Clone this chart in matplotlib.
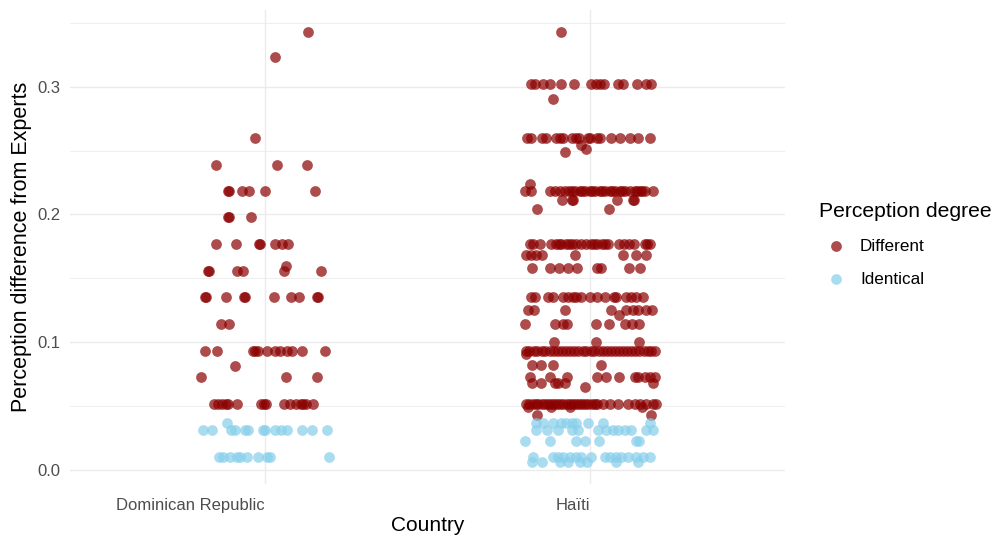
import matplotlib.pyplot as plt
from matplotlib.ticker import MultipleLocator

plt.rcParams['font.family'] = ['Liberation Sans', 'DejaVu Sans']

countries = ["Dominican Republic", "Haïti"]
degrees = ["Different", "Identical"]
colors = {"Different": "#8B0000", "Identical": "#87CEEB"}

# each row: (perception difference, horizontal jitter offsets of the points at that value)
dr_different = [
    (0.343, [0.132]),
    (0.323, [0.031]),
    (0.260, [-0.029]),
    (0.239, [-0.151, 0.037, 0.129]),
    (0.218, [-0.113, -0.110, -0.069, -0.049, 0.001, 0.155]),
    (0.198, [-0.113, -0.110, -0.043]),
    (0.177, [-0.151, -0.089, -0.019, -0.016, 0.030, 0.053, 0.070]),
    (0.160, [0.066]),
    (0.156, [-0.174, -0.171, -0.087, -0.067, 0.059, 0.172]),
    (0.135, [-0.185, -0.182, -0.121, -0.065, -0.062, 0.028, 0.079, 0.106, 0.159, 0.162]),
    (0.114, [-0.135, -0.111]),
    (0.093, [-0.185, -0.149, -0.038, -0.030, -0.022, 0.007, 0.031, 0.046, 0.067, 0.084, 0.113, 0.185]),
    (0.081, [-0.092]),
    (0.073, [-0.198, 0.064, 0.159]),
    (0.052, [-0.156, -0.145, -0.133, -0.121, -0.113, -0.087, -0.013, -0.002, 0.004, 0.059,
             0.077, 0.095, 0.111, 0.118, 0.126, 0.147]),
]
dr_identical = [
    (0.037, [-0.118]),
    (0.031, [-0.190, -0.164, -0.103, -0.092, -0.062, -0.051, -0.007, 0.000, 0.031, 0.051,
             0.067, 0.113, 0.146, 0.192]),
    (0.010, [-0.142, -0.128, -0.108, -0.087, -0.077, -0.056, -0.022, 0.005, 0.015, 0.197]),
]
ht_different = [
    (0.343, [-0.087]),
    (0.302, [-0.182, -0.169, -0.144, -0.121, -0.087, -0.049, 0.005, 0.018, 0.031, 0.044,
             0.087, 0.103, 0.147, 0.172, 0.190]),
    (0.290, [-0.113]),
    (0.260, [-0.193, -0.180, -0.146, -0.135, -0.103, -0.090, -0.082, -0.056, -0.041, -0.033,
             -0.005, 0.002, 0.022, 0.033, 0.067, 0.092, 0.123, 0.149, 0.185]),
    (0.254, [-0.026]),
    (0.251, [-0.012]),
    (0.249, [-0.077]),
    (0.224, [-0.185]),
    (0.218, [-0.200, -0.182, -0.123, -0.108, -0.092, -0.077, -0.064, -0.054, -0.046, -0.031,
             -0.023, -0.015, 0.000, 0.008, 0.015, 0.031, 0.038, 0.046, 0.062, 0.069, 0.077,
             0.092, 0.100, 0.108, 0.123, 0.138, 0.146, 0.154, 0.162, 0.169, 0.195]),
    (0.211, [-0.084, -0.056, -0.052, 0.084, 0.133, 0.137]),
    (0.204, [-0.161, 0.058]),
    (0.177, [-0.185, -0.174, -0.152, -0.118, -0.103, -0.094, -0.087, -0.072, -0.064, -0.056,
             -0.041, -0.026, -0.010, 0.005, 0.014, 0.023, 0.039, 0.047, 0.056, 0.090, 0.105,
             0.121, 0.135, 0.169, 0.177, 0.185]),
    (0.168, [-0.197, -0.182, -0.166, -0.147, -0.046, 0.103, 0.142, 0.172]),
    (0.158, [-0.179, -0.123, -0.094, -0.067, -0.039, 0.022, 0.036, 0.121, 0.154]),
    (0.135, [-0.182, -0.169, -0.128, -0.113, -0.082, -0.066, -0.051, -0.041, -0.026, 0.000,
             0.022, 0.046, 0.074, 0.082, 0.113, 0.128, 0.144, 0.164]),
    (0.125, [-0.190, -0.172, -0.077, 0.067, 0.113, 0.133, 0.149, 0.174, 0.193]),
    (0.121, [0.089]),
    (0.114, [-0.200, -0.108, -0.082, -0.070, 0.018, 0.058, 0.108, 0.131, 0.152]),
    (0.100, [-0.111, 0.018, 0.152]),
    (0.093, [-0.195, -0.186, -0.172, -0.161, -0.148, -0.137, -0.123, -0.111, -0.097, -0.086,
             -0.072, -0.061, -0.048, -0.036, -0.022, -0.011, 0.003, 0.014, 0.028, 0.041,
             0.052, 0.066, 0.078, 0.089, 0.102, 0.116, 0.128, 0.139, 0.153, 0.166, 0.178,
             0.190, 0.200]),
    (0.091, [-0.197]),
    (0.082, [-0.179, -0.149, -0.113, 0.036]),
    (0.073, [-0.185, -0.123, -0.070, 0.022, 0.049, 0.090, 0.138, 0.149, 0.169, 0.185, 0.200]),
    (0.068, [-0.179, -0.149, -0.108, -0.097, -0.077, 0.195]),
    (0.065, [-0.015]),
    (0.052, [-0.195, -0.187, -0.176, -0.166, -0.158, -0.147, -0.139, -0.128, -0.118, -0.110,
             -0.100, -0.090, -0.081, -0.071, -0.062, -0.052, -0.043, -0.033, -0.024, -0.013,
             -0.004, 0.006, 0.015, 0.022, 0.041, 0.062, 0.087, 0.118, 0.138, 0.154, 0.174,
             0.195, 0.205]),
    (0.049, [-0.190, -0.120, -0.060, 0.160]),
    (0.043, [-0.161, 0.190]),
]
ht_identical = [
    (0.037, [-0.166, -0.144, -0.113, -0.087, -0.072, -0.056, -0.041, -0.005, 0.041, 0.185]),
    (0.031, [-0.166, -0.133, -0.097, -0.056, -0.036, 0.026, 0.051, 0.072, 0.087, 0.108,
             0.128, 0.174, 0.195]),
    (0.023, [-0.200, -0.123, -0.043, -0.015, 0.029, 0.144, 0.152]),
    (0.010, [-0.176, -0.113, -0.097, -0.082, -0.062, -0.041, -0.026, 0.005, 0.046, 0.062,
             0.080, 0.097, 0.118, 0.144, 0.164, 0.185]),
    (0.006, [-0.179, -0.146, -0.092, -0.067, -0.031, -0.008, 0.082, 0.149]),
]

groups = {
    ("Dominican Republic", "Different"): dr_different,
    ("Dominican Republic", "Identical"): dr_identical,
    ("Haïti", "Different"): ht_different,
    ("Haïti", "Identical"): ht_identical,
}

fig = plt.figure(figsize=(9.92, 5.37), dpi=100)
ax = fig.add_axes([0.0706, 0.0987, 0.7203, 0.8826])

for degree in degrees:
    xs, ys = [], []
    for i, country in enumerate(countries):
        for value, offsets in groups[(country, degree)]:
            for off in offsets:
                xs.append(i + 1 + off)
                ys.append(value)
    ax.scatter(xs, ys, s=60, color=colors[degree], alpha=0.7, linewidths=0,
               label=degree, zorder=3)

ax.set_xlim(0.4, 2.6)
ax.set_ylim(-0.011, 0.360)
ax.set_xticks([1, 2])
ax.set_xticklabels(countries, ha='right')
ax.yaxis.set_minor_locator(MultipleLocator(0.05))
ax.set_yticks([0.0, 0.1, 0.2, 0.3])
ax.set_yticklabels(["0.0", "0.1", "0.2", "0.3"])

ax.grid(True, which='major', color='#EBEBEB', linewidth=1.0, zorder=0)
ax.grid(True, which='minor', axis='y', color='#EBEBEB', linewidth=0.6, zorder=0)
for spine in ax.spines.values():
    spine.set_visible(False)
ax.tick_params(which='both', length=0, colors='#4D4D4D', labelsize=12)
ax.tick_params(axis='y', pad=7)
ax.tick_params(axis='x', pad=10)

ax.set_xlabel("Country", fontsize=15, color='black', labelpad=2)
ax.set_ylabel("Perception difference from Experts", fontsize=15.5, color='black', labelpad=4)

leg = ax.legend(title="Perception degree", loc='upper left',
                bbox_to_anchor=(0.81, 0.653), bbox_transform=fig.transFigure,
                frameon=False, fontsize=12.3, title_fontsize=15.2,
                markerscale=1.0, handletextpad=0.4, labelspacing=1.05)
leg._legend_box.align = "left"

fig.savefig("out.png", dpi=100, facecolor='white')
